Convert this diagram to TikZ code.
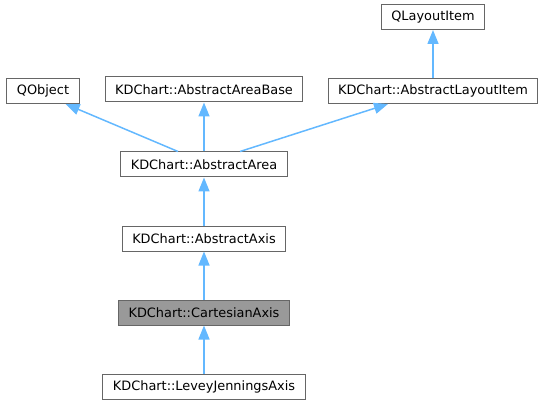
\documentclass[tikz,border=0pt]{standalone}
\usepackage{fontspec}
\setmainfont{DejaVu Sans}
\usepackage{xcolor}
\usepackage{tikz}
\usetikzlibrary{arrows.meta, positioning}

\definecolor{edgeblue}{HTML}{63B8FF}
\definecolor{boxgray}{HTML}{666666}
\definecolor{curgray}{HTML}{999999}

\begin{document}
\begin{tikzpicture}[
    x=1pt, y=-1pt,
    node distance=48pt,
    cls/.style={rectangle, draw=boxgray, line width=1pt, fill=white, minimum height=25pt, inner xsep=10pt, inner ysep=3pt, font=\fontsize{12.9}{15}\selectfont},
    curcls/.style={cls, fill=curgray},
    arr/.style={-{Triangle[length=14pt, width=11pt]}, color=edgeblue, line width=1.5pt}
]
\useasboundingbox (0,0) rectangle (545,403);

% Classes
\node[cls] (area) at (204,164.5) {KDChart::AbstractArea};
\node[cls, above=49pt of area] (areabase) {KDChart::AbstractAreaBase};
\node[cls] (qobject) at (43,91) {QObject};
\node[cls] (layoutitem) at (433,91) {KDChart::AbstractLayoutItem};
\node[cls, above=48pt of layoutitem] (qlayoutitem) {QLayoutItem};
\node[cls, below=of area] (axis) {KDChart::AbstractAxis};
\node[curcls, below=of axis] (cartesian) {KDChart::CartesianAxis};
\node[cls, below=of cartesian] (levey) {KDChart::LeveyJenningsAxis};

% Inheritance arrows
\draw[arr] (layoutitem) -- (qlayoutitem);
\draw[arr] ([xshift=-26pt]area.north) -- ([xshift=-14pt]qobject.south east);
\draw[arr] (area) -- (areabase);
\draw[arr] ([xshift=36pt]area.north) -- ([xshift=-45pt]layoutitem.south);
\draw[arr] (axis) -- (area);
\draw[arr] (cartesian) -- (axis);
\draw[arr] (levey) -- (cartesian);
\end{tikzpicture}
\end{document}
